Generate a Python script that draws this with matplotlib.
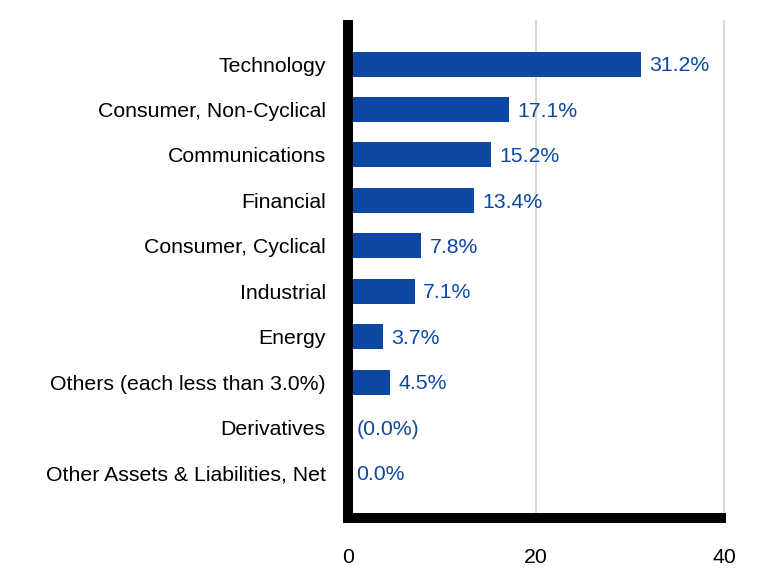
import matplotlib
matplotlib.use("Agg")
import matplotlib.pyplot as plt

categories = ["Technology", "Consumer, Non-Cyclical", "Communications", "Financial",
              "Consumer, Cyclical", "Industrial", "Energy", "Others (each less than 3.0%)",
              "Derivatives", "Other Assets & Liabilities, Net"]
values = [31.2, 17.1, 15.2, 13.4, 7.8, 7.1, 3.7, 4.5, 0.0, 0.0]
value_labels = ["31.2%", "17.1%", "15.2%", "13.4%", "7.8%", "7.1%", "3.7%", "4.5%", "(0.0%)", "0.0%"]
x_ticks = [0, 20, 40]

plt.rcParams['font.family'] = ['Liberation Sans', 'DejaVu Sans']

BLUE = "#0D47A1"
FS = 15.3
fig = plt.figure(figsize=(7.8, 5.88), dpi=100)
ax = fig.add_axes([0.4462, 0.119, 0.482, 0.847])

pos = list(range(len(categories)))
ax.barh(pos, values, height=0.55, color=BLUE, zorder=3)
for p, v, lab in zip(pos, values, value_labels):
    ax.annotate(lab, (v, p), xytext=(6, -1.2), textcoords="offset points",
                va="center", ha="left", fontsize=FS, color=BLUE)

ax.set_xlim(0, 40)
ax.set_ylim(9.99, -0.97)
ax.set_xticks(x_ticks)
ax.set_xticklabels([str(t) for t in x_ticks])
ax.set_yticks(pos)
ax.set_yticklabels(categories)
ax.tick_params(axis="both", length=0, labelsize=FS, colors="black")
ax.tick_params(axis="x", pad=21.5)
ax.tick_params(axis="y", pad=16)
ax.grid(axis="x", color="#d9d9d9", linewidth=1.5, zorder=0)
for gl in ax.get_xgridlines():
    gl.set_clip_on(False)
    gl.set_solid_capstyle("butt")
for s in ["top", "right"]:
    ax.spines[s].set_visible(False)
for s in ["left", "bottom"]:
    ax.spines[s].set_linewidth(7.2)
    ax.spines[s].set_color("black")
    ax.spines[s].set_zorder(4)
ax.spines["left"].set_capstyle("butt")
ax.spines["bottom"].set_capstyle("projecting")
ax.spines["bottom"].set_bounds(0, 39.68)

fig.savefig("out.png", dpi=100)
